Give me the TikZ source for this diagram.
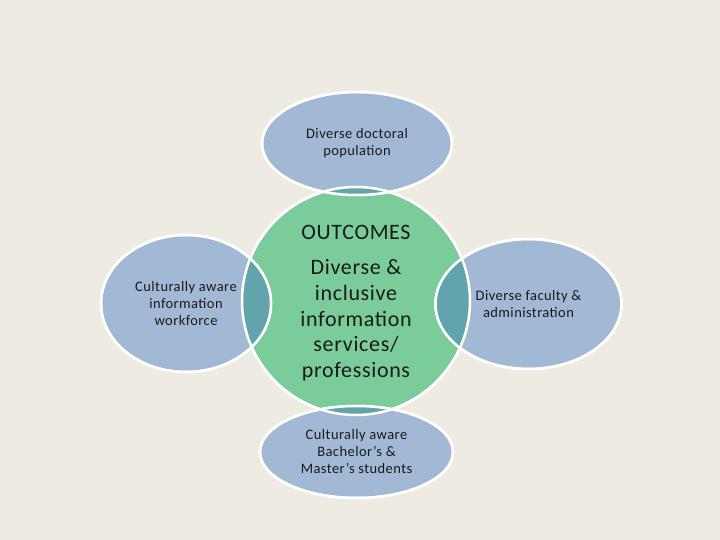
\documentclass[tikz,border=0pt]{standalone}
\usepackage{fontspec}
\setmainfont{Carlito}[LetterSpace=3]
\usetikzlibrary{shapes.geometric}
\definecolor{paper}{HTML}{EEEBE2}
\definecolor{bluefill}{HTML}{A2B9D6}
\definecolor{greenfill}{HTML}{7ACC9A}
\definecolor{tealfill}{HTML}{62A4AC}
\definecolor{ink}{HTML}{1A1A1A}
\tikzset{
  blob/.style={ellipse,fill=bluefill,draw=white,line width=2.5bp,inner sep=0pt,align=center,
    text=ink,font=\fontsize{14.5bp}{17bp}\selectfont},
  hub/.style={circle,fill=greenfill,draw=white,line width=2.5bp,inner sep=0pt,align=center,
    minimum size=228bp,text=ink,font=\fontsize{22bp}{25.7bp}\selectfont},
  lens/.style={fill=tealfill},
  rim/.style={draw=white,line width=2.5bp}
}

\begin{document}
\begin{tikzpicture}[x=1bp,y=1bp]
\fill[paper] (0,0) rectangle (720,540);
\useasboundingbox (0,0) rectangle (720,540);
% centre and the four outcomes round it
\node[hub] (hub) at (356,239) {};
\node[blob,minimum width=190bp,minimum height=103bp] (doc) at (357,396.5) {Diverse doctoral\\population};
\node[blob,minimum width=170bp,minimum height=137bp] (work) at (186,236.5) {Culturally aware\\information\\workforce};
\node[blob,minimum width=186bp,minimum height=130bp] (fac) at (528.5,236) {Diverse faculty \&\\administration};
\node[blob,minimum width=193bp,minimum height=92bp] (stud) at (356.5,88) {Culturally aware\\Bachelor’s \&\\Master’s students};
% overlaps
\begin{scope}
  \clip (hub.center) circle (114);
  \fill[lens] (doc.center) ellipse [x radius=95,y radius=51.5];
  \fill[lens] (work.center) ellipse [x radius=85,y radius=68.5];
  \fill[lens] (fac.center) ellipse [x radius=93,y radius=65];
  \fill[lens] (stud.center) ellipse [x radius=96.5,y radius=46];
\end{scope}
\draw[rim] (hub.center) circle (114);
\draw[rim] (doc.center) ellipse [x radius=95,y radius=51.5];
\draw[rim] (work.center) ellipse [x radius=85,y radius=68.5];
\draw[rim] (fac.center) ellipse [x radius=93,y radius=65];
\draw[rim] (stud.center) ellipse [x radius=96.5,y radius=46];
\node[align=center,text=ink,font=\fontsize{22bp}{25.7bp}\selectfont] (hubtext) at ([yshift=-2bp]hub.center)
  {OUTCOMES\\[10bp]Diverse \&\\inclusive\\information\\services/\\professions};
\end{tikzpicture}
\end{document}
